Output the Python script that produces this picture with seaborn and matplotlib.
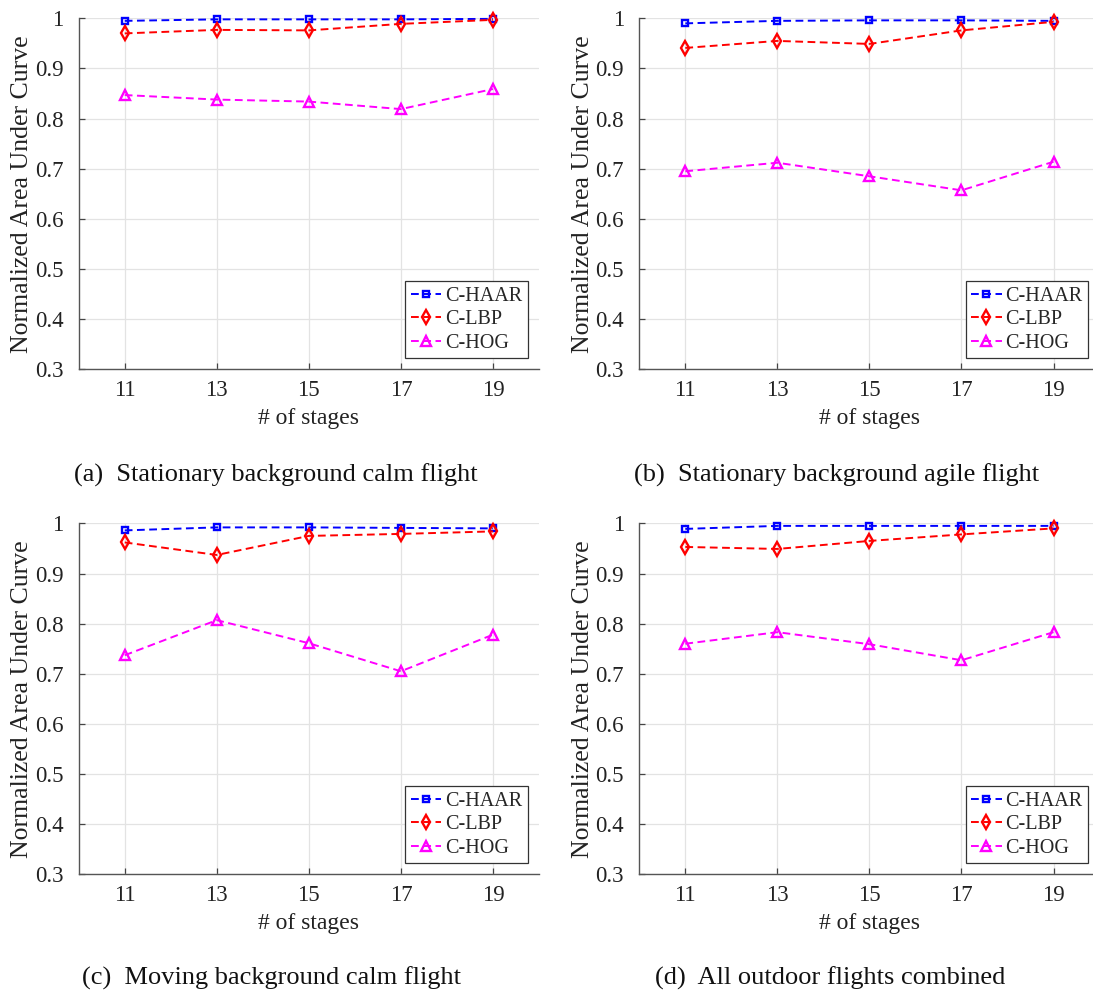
import matplotlib
matplotlib.use("Agg")
import matplotlib.pyplot as plt
from matplotlib.ticker import FormatStrFormatter
import seaborn as sns
import pandas as pd

# Number of cascade stages on the x axis
stages = [11, 13, 15, 17, 19]
methods = ["C-HAAR", "C-LBP", "C-HOG"]

# (a) Stationary background, calm flight
a_haar = [0.995, 0.998, 0.998, 0.998, 0.999]
a_lbp = [0.970, 0.977, 0.976, 0.989, 0.997]
a_hog = [0.847, 0.838, 0.834, 0.819, 0.859]

# (b) Stationary background, agile flight
b_haar = [0.990, 0.995, 0.996, 0.996, 0.995]
b_lbp = [0.941, 0.955, 0.949, 0.976, 0.993]
b_hog = [0.695, 0.712, 0.685, 0.657, 0.714]

# (c) Moving background, calm flight
c_haar = [0.986, 0.992, 0.992, 0.991, 0.990]
c_lbp = [0.962, 0.937, 0.975, 0.979, 0.984]
c_hog = [0.737, 0.807, 0.761, 0.705, 0.778]

# (d) All outdoor flights combined
d_haar = [0.989, 0.995, 0.995, 0.995, 0.995]
d_lbp = [0.953, 0.949, 0.965, 0.978, 0.990]
d_hog = [0.760, 0.783, 0.759, 0.727, 0.783]

captions = [
    "(a)  Stationary background calm flight",
    "(b)  Stationary background agile flight",
    "(c)  Moving background calm flight",
    "(d)  All outdoor flights combined",
]
panels = [
    (a_haar, a_lbp, a_hog),
    (b_haar, b_lbp, b_hog),
    (c_haar, c_lbp, c_hog),
    (d_haar, d_lbp, d_hog),
]
y_ticks = [0.3, 0.4, 0.5, 0.6, 0.7, 0.8, 0.9, 1.0]

sns.set_theme(style="white")
plt.rcParams["font.family"] = ["Liberation Serif", "DejaVu Serif"]
plt.rcParams["mathtext.fontset"] = "stix"

colors = {"C-HAAR": "#0000ff", "C-LBP": "#ff0000", "C-HOG": "#ff00ff"}
markers = {"C-HAAR": "s", "C-LBP": "d", "C-HOG": "^"}
msizes = {"C-HAAR": 5.0, "C-LBP": 7.0, "C-HOG": 7.2}

fig = plt.figure(figsize=(10.93, 9.92), dpi=100)

ax_w, ax_h = 0.4211, 0.3538
positions = [
    (0.0720, 0.6277),
    (0.5849, 0.6277),
    (0.0720, 0.1186),
    (0.5849, 0.1186),
]
caption_xy = [(0.2525, 0.521), (0.7658, 0.521), (0.248, 0.0141), (0.7594, 0.0141)]

for (left, bottom), series, caption, (cx, cy) in zip(positions, panels, captions, caption_xy):
    ax = fig.add_axes([left, bottom, ax_w, ax_h])
    rows = []
    for name, vals in zip(methods, series):
        for s, v in zip(stages, vals):
            rows.append({"stages": s, "auc": v, "method": name})
    df = pd.DataFrame(rows)

    sns.lineplot(
        data=df, x="stages", y="auc", hue="method", style="method",
        hue_order=methods, style_order=methods,
        palette=colors, markers=markers, dashes={m: (4, 2.3) for m in methods},
        linewidth=1.4, legend=False, ax=ax, clip_on=False, zorder=3,
    )
    for line, name in zip(ax.lines, methods):
        line.set_markerfacecolor("none")
        line.set_markeredgecolor(colors[name])
        line.set_markeredgewidth(1.7)
        line.set_markersize(msizes[name])

    ax.set_xlim(10, 20)
    ax.set_ylim(0.3, 1.0)
    ax.set_xticks(stages)
    ax.set_yticks(y_ticks)
    ax.yaxis.set_major_formatter(FormatStrFormatter("%g"))
    ax.grid(True, color="#e3e3e3", linewidth=0.9, zorder=0)
    ax.set_axisbelow(True)

    for side in ("top", "right"):
        ax.spines[side].set_visible(False)
    for side in ("left", "bottom"):
        ax.spines[side].set_color("#555555")
        ax.spines[side].set_linewidth(1.0)

    ax.tick_params(axis="both", direction="in", length=4, width=0.9,
                   color="#444444", labelsize=16.5, labelcolor="#222222")
    ax.tick_params(axis="x", pad=8)
    ax.tick_params(axis="y", pad=11)
    ax.tick_params(left=True, bottom=True)

    ax.set_xlabel("# of stages", fontsize=17, color="#222222")
    ax.set_ylabel("Normalized Area Under Curve", fontsize=18.5, color="#222222")
    ax.xaxis.set_label_coords(0.5, -0.11)
    ax.xaxis.label.set_va("top")
    ax.yaxis.set_label_coords(-0.099, 0.5)

    leg = ax.legend(
        handles=ax.lines[:3], labels=methods, loc="lower right",
        bbox_to_anchor=(1.0, 0.0), borderaxespad=0.55,
        fontsize=14.5, handlelength=1.5, handletextpad=0.2,
        labelspacing=0.22, borderpad=0.28, fancybox=False,
        framealpha=1, edgecolor="#333333",
    )
    leg.get_frame().set_linewidth(0.9)

    fig.text(cx, cy, caption, ha="center", va="center", fontsize=19, color="#111111")

fig.savefig("out.png", dpi=100)
